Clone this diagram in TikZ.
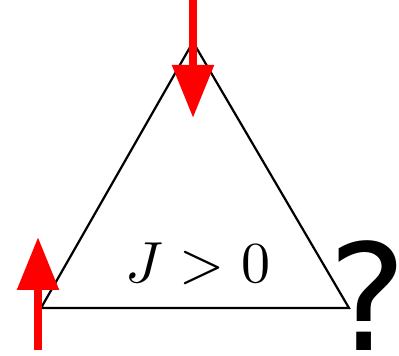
\documentclass[tikz,border=0pt]{standalone}
\usepackage{fontspec}
\newfontfamily\qfont{DejaVu Sans}
\usetikzlibrary{arrows.meta, positioning}

\begin{document}
\begin{tikzpicture}[x=1pt, y=1pt,
		spin/.style={red, line width=8.5pt, -{Triangle[width=40pt, length=53pt]}},
		bond/.style={black, line width=2.2pt, line join=miter}]
		
		\useasboundingbox (0,0) rectangle (399,356);
		
		\coordinate (left) at (41,48);
		\coordinate (right) at (349,48);
		\coordinate (top) at (193,314);
		
		\coordinate (s1) at (193,356);
		\coordinate (t1) at (193,238);
		\coordinate (s2) at (38,6);
		\coordinate (t2) at (38,119);
		
		\draw[bond] (left) -- (right) -- (top) -- cycle;
		
		\draw[spin] (s1) -- (t1);
		\draw[spin] (s2) -- (t2);
		
		\node[scale=5.8] (coupling) at (198,92) {$J>0$};
		\node[anchor=south, inner sep=0pt] (question) at (369,5) {\qfont\fontsize{148}{148}\selectfont\kern-.09em?\kern-.08em};
		
\end{tikzpicture}
\end{document}
